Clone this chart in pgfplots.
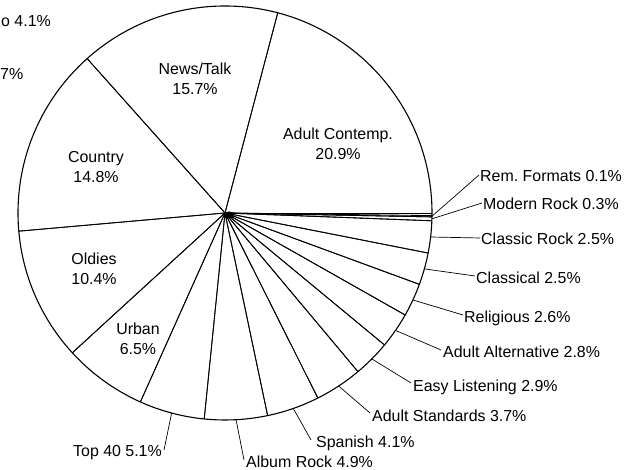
\documentclass[border=0pt]{standalone}
\usepackage{pgfplots}
\usepackage{pgfplotstable}
\pgfplotsset{compat=1.18}
\usepackage{fontspec}
\setmainfont{Liberation Sans}
\frenchspacing

% slice shares (%) counter-clockwise from 3 o'clock;
% lx,ly = outer end of the leader line of an outside label
\pgfplotstableread[col sep=comma]{
pct,lx,ly
20.9,0,0
15.7,0,0
14.8,0,0
10.4,0,0
6.5,0,0
5.1,164,20
4.9,244,10
4.1,311,30
3.7,370,57
2.9,411,87
2.8,441,120
2.6,463,155
2.5,475,194
2.5,480,232
0.3,482,267
0.1,479,295
}\slices
\pgfplotstablecreatecol[create col/expr accum={\pgfmathaccuma + \thisrow{pct}}{0}]{cum}{\slices}

\tikzset{lbl/.style={font=\fontsize{16}{19.5}\selectfont, text=black, inner sep=0pt}}

\begin{document}
\fontsize{16}{19.5}\selectfont
\begin{tikzpicture}
\begin{axis}[
  scale only axis, width=628bp, height=470bp,
  xmin=0, xmax=628, ymin=0, ymax=470,
  hide axis, clip=false,
]
% pie outline
\draw[line width=1.1pt] (axis cs:225,257) circle [radius=207];
% slice boundaries (start and end angle of every slice)
\addplot[black, line width=0.85pt, -, mark=none,
  quiver={u={207*cos(3.6*(\thisrow{cum}-\thisrow{pct}))}, v={207*sin(3.6*(\thisrow{cum}-\thisrow{pct}))}}]
  table[x expr=225, y expr=257] {\slices};
\addplot[black, line width=0.85pt, -, mark=none,
  quiver={u={207*cos(3.6*\thisrow{cum})}, v={207*sin(3.6*\thisrow{cum})}}]
  table[x expr=225, y expr=257] {\slices};
% leader lines of the outside labels
\addplot[black, line width=0.7pt, -, mark=none, skip coords between index={0}{5},
  quiver={u={\thisrow{lx}-225-207*cos(3.6*(\thisrow{cum}-\thisrow{pct}/2))},
          v={\thisrow{ly}-257-207*sin(3.6*(\thisrow{cum}-\thisrow{pct}/2))}}]
  table[x expr={225+207*cos(3.6*(\thisrow{cum}-\thisrow{pct}/2))},
        y expr={257+207*sin(3.6*(\thisrow{cum}-\thisrow{pct}/2))}] {\slices};
\fill (axis cs:229,255) ellipse [x radius=5, y radius=3.5];

% inside labels
\node[lbl, align=center] at (axis cs:195,391) {News/Talk\\15.7\%};
\node[lbl, align=center] at (axis cs:338,326) {Adult Contemp.\\20.9\%};
\node[lbl, align=center] at (axis cs:96,303) {Country\\14.8\%};
\node[lbl, align=center] at (axis cs:94,201) {Oldies\\10.4\%};
\node[lbl, align=center] at (axis cs:138,131) {Urban\\6.5\%};

% outside labels
\node[lbl, anchor=west] at (axis cs:480,294) {Rem. Formats 0.1\%};
\node[lbl, anchor=west] at (axis cs:483,266) {Modern Rock 0.3\%};
\node[lbl, anchor=west] at (axis cs:481,231) {Classic Rock 2.5\%};
\node[lbl, anchor=west] at (axis cs:476,192) {Classical 2.5\%};
\node[lbl, anchor=west] at (axis cs:464,152) {Religious 2.6\%};
\node[lbl, anchor=west] at (axis cs:443,118) {Adult Alternative 2.8\%};
\node[lbl, anchor=west] at (axis cs:413,83) {Easy Listening 2.9\%};
\node[lbl, anchor=west] at (axis cs:372,54) {Adult Standards 3.7\%};
\node[lbl, anchor=west] at (axis cs:316,27) {Spanish 4.1\%};
\node[lbl, anchor=west] at (axis cs:246,8) {Album Rock 4.9\%};
\node[lbl, anchor=east] at (axis cs:162,17) {Top 40 5.1\%};

% fragments of labels of a neighbouring chart at the left edge
\node[lbl, anchor=west] at (axis cs:1,449) {o 4.1\%};
\node[lbl, anchor=west] at (axis cs:0,396) {7\%};
\end{axis}
\pgfresetboundingbox
\path[use as bounding box] (current axis.south west) rectangle (current axis.north east);
\end{tikzpicture}
\end{document}
